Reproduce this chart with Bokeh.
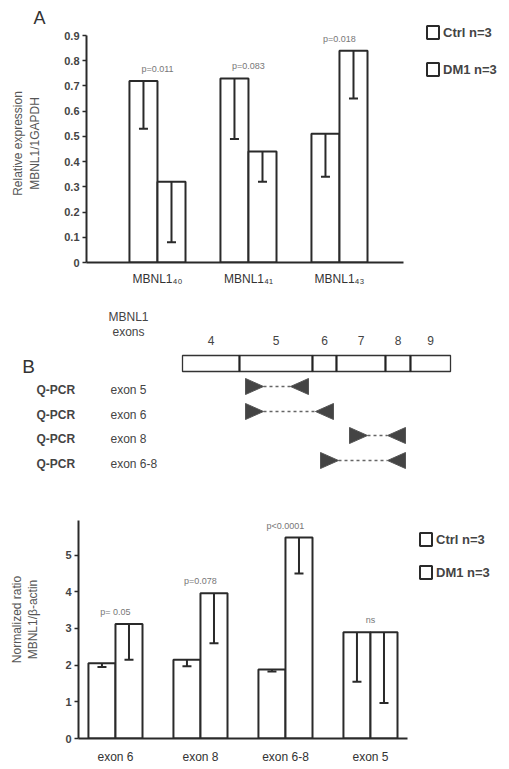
import numpy as np
from bokeh.plotting import figure
from bokeh.models import (Range1d, FixedTicker, ColumnDataSource, Legend, LegendItem)
from bokeh.core.properties import value
from bokeh.embed import file_html
from bokeh.resources import INLINE

FONT = "Liberation Sans"
INK = "#2a2a2a"

# ---------------- Panel A data ----------------
a_cats = ["MBNL1\u2084\u2080", "MBNL1\u2084\u2081", "MBNL1\u2084\u2083"]
a_ctrl = [0.72, 0.73, 0.51]
a_ctrl_err = [0.19, 0.24, 0.17]
a_dm1 = [0.32, 0.44, 0.84]
a_dm1_err = [0.24, 0.12, 0.19]
a_pvals = ["p=0.011", "p=0.083", "p=0.018"]
a_yticks = [0, 0.1, 0.2, 0.3, 0.4, 0.5, 0.6, 0.7, 0.8, 0.9]
a_ticklabels = ["0", "0.1", "0.2", "0.3", "0.4", "0.5", "0.6", "0.7", "0.8", "0.9"]

# ---------------- Panel B data ----------------
exon_names = ["4", "5", "6", "7", "8", "9"]
exon_lengths = [57, 73, 24, 49, 25, 40]
qpcr_targets = ["exon 5", "exon 6", "exon 8", "exon 6-8"]
primer_fwd = [63, 63, 167, 138]
primer_rev = [126, 151, 223, 223]

# ---------------- Panel C data ----------------
c_cats = ["exon 6", "exon 8", "exon 6-8", "exon 5"]
c_ctrl = [2.05, 2.15, 1.88, 2.9]
c_ctrl_err = [0.10, 0.18, 0.05, 1.35]
c_dm1 = [3.12, 3.96, 5.48, 2.9]
c_dm1_err = [0.97, 1.36, 0.98, 1.93]
c_pvals = ["p= 0.05", "p=0.078", "p<0.0001", "ns"]
c_yticks = [0, 1, 2, 3, 4, 5]
c_ticklabels = ["0", "1", "2", "3", "4", "5"]

series_labels = ["Ctrl n=3", "DM1 n=3"]

W = 509


def bar_panel(height, cats, ctrl, ctrl_err, dm1, dm1_err, pvals, yticks, ticklabels,
              y_axis_top, y_end, x_start, x_axis_end, px_per_unit, bw, borders, ylabel,
              ylabel_standoff, xlabel_standoff, leg_loc, leg_spacing, title=""):
    left, top, bottom = borders
    x_end = x_start + (W - left) / px_per_unit
    p = figure(width=W, height=height, x_range=Range1d(x_start, x_end),
               y_range=Range1d(0, y_end), output_backend="svg", toolbar_location=None,
               min_border_left=left, min_border_right=0, min_border_top=top,
               min_border_bottom=bottom, title=title)
    p.outline_line_color = None
    p.grid.visible = False
    p.background_fill_color = "white"
    p.border_fill_color = "white"

    xs = np.arange(len(cats), dtype=float)
    ctrl = np.array(ctrl); dm1 = np.array(dm1)
    rs = []
    for xo, vals, errs in ((xs - bw / 2, ctrl, ctrl_err), (xs + bw / 2, dm1, dm1_err)):
        src = ColumnDataSource(dict(x=xo, top=vals, lower=vals - np.array(errs)))
        r = p.vbar(x="x", top="top", width=bw, source=src, fill_color="white",
                   line_color=INK, line_width=2)
        rs.append(r)
        p.segment(x0="x", x1="x", y0="top", y1="lower", source=src, line_color=INK,
                  line_width=2)
        p.scatter(x="x", y="lower", source=src, marker="dash", size=9, line_color=INK,
                  line_width=2)

    ymax = np.maximum(ctrl, dm1)
    p.text(x=xs, y=ymax, text=pvals, text_align="center", text_baseline="bottom",
           y_offset=-7, text_font=value(FONT), text_font_size="9px", text_color="#777777")

    p.xaxis.bounds = (x_start, x_axis_end)
    p.xaxis.ticker = FixedTicker(ticks=list(xs))
    p.xaxis.major_label_overrides = {int(i): c for i, c in enumerate(cats)}
    p.xaxis.major_tick_line_color = None
    p.xaxis.minor_tick_line_color = None
    p.xaxis.axis_line_width = 2
    p.xaxis.axis_line_color = INK
    p.xaxis.major_label_standoff = xlabel_standoff
    p.xaxis.major_label_text_font = FONT
    p.xaxis.major_label_text_font_size = "12px"
    p.xaxis.major_label_text_color = "#333333"

    p.yaxis.bounds = (0, y_axis_top)
    p.yaxis.ticker = FixedTicker(ticks=yticks)
    p.yaxis.major_label_overrides = {t: l for t, l in zip(yticks, ticklabels)}
    p.yaxis.minor_tick_line_color = None
    p.yaxis.major_tick_in = 0
    p.yaxis.major_tick_out = 4
    p.yaxis.major_tick_line_width = 1.5
    p.yaxis.major_tick_line_color = INK
    p.yaxis.axis_line_width = 2
    p.yaxis.axis_line_color = INK
    p.yaxis.major_label_standoff = 3
    p.yaxis.major_label_text_font = FONT
    p.yaxis.major_label_text_font_size = "11px"
    p.yaxis.major_label_text_font_style = "bold"
    p.yaxis.major_label_text_color = "#444444"
    p.yaxis.axis_label = ylabel
    p.yaxis.axis_label_text_font = FONT
    p.yaxis.axis_label_text_font_size = "12px"
    p.yaxis.axis_label_text_font_style = "normal"
    p.yaxis.axis_label_text_color = "#555555"
    p.yaxis.axis_label_standoff = ylabel_standoff

    legend = Legend(items=[LegendItem(label=series_labels[0], renderers=[rs[0]]),
                           LegendItem(label=series_labels[1], renderers=[rs[1]])],
                    location=leg_loc, orientation="vertical", glyph_width=15,
                    glyph_height=16, spacing=leg_spacing, padding=0, margin=0,
                    label_standoff=3, label_text_font=FONT, label_text_font_size="13px",
                    label_text_font_style="bold", label_text_color="#444444",
                    border_line_color=None, background_fill_alpha=0)
    p.add_layout(legend)
    return p


# ---------------- Panel A ----------------
# frame: left 86, top 24, bottom 262 ; 0.1 unit = 25.2 px
a_top_border = 24
a_ppu_y = 227 / 0.9
pA = bar_panel(300, a_cats, a_ctrl, a_ctrl_err, a_dm1, a_dm1_err, a_pvals,
               a_yticks, a_ticklabels, 0.9, 0.9 + (35 - a_top_border) / a_ppu_y,
               -0.78, 2.70, 91.0, 0.308, (86, a_top_border, 38),
               "Relative expression\nMBNL1/1GAPDH", 19, 3, (339, 185), 21, title="A")
pA.title.text_font = FONT
pA.title.text_font_size = "18px"
pA.title.text_font_style = "normal"
pA.title.text_color = "#333333"
pA.title.align = "left"
pA.title.offset = -53
pA.title.standoff = -6

# ---------------- Panel B (exon diagram) ----------------
pB = figure(width=W, height=182, x_range=Range1d(0, W), y_range=Range1d(182, 0),
            output_backend="svg", toolbar_location=None, x_axis_type=None,
            y_axis_type=None, min_border=0)
pB.outline_line_color = None
pB.grid.visible = False

origin = 182
edges = origin + np.concatenate([[0], np.cumsum(exon_lengths)])
pB.quad(left=edges[:-1], right=edges[1:], top=55, bottom=71, fill_color="white",
        line_color="#333333", line_width=1.3)
pB.segment(x0=edges[1:-1], x1=edges[1:-1], y0=55, y1=71, line_color="#222222", line_width=2)
centers = (edges[:-1] + edges[1:]) / 2
pB.text(x=centers, y=40, text=exon_names, text_align="center", text_baseline="middle",
        text_font=value(FONT), text_font_size="12px", text_color="#444444")
pB.text(x=[128, 128], y=[16, 31], text=["MBNL1", "exons"], text_align="center",
        text_baseline="middle", text_font=value(FONT), text_font_size="12px",
        text_color="#444444")
pB.text(x=[28], y=[66], text=["B"], text_align="center", text_baseline="middle",
        text_font=value(FONT), text_font_size="19px", text_color="#333333")

row_y = np.array([89, 114, 138, 163])
pB.text(x=[36] * 4, y=row_y, text=["Q-PCR"] * 4, text_align="left", text_baseline="middle",
        text_font=value(FONT), text_font_size="12px", text_font_style="bold",
        text_color="#444444")
pB.text(x=[110] * 4, y=row_y, text=qpcr_targets, text_align="left", text_baseline="middle",
        text_font=value(FONT), text_font_size="12px", text_color="#444444")

tri_w, tri_h = 18, 8
ty = row_y - 3
fx = origin + np.array(primer_fwd)
rx = origin + np.array(primer_rev)
fwd_xs = [[x, x, x + tri_w] for x in fx]
fwd_ys = [[y - tri_h, y + tri_h, y] for y in ty]
rev_xs = [[x, x, x - tri_w] for x in rx]
rev_ys = [[y - tri_h, y + tri_h, y] for y in ty]
pB.patches(xs=fwd_xs, ys=fwd_ys, fill_color="#444444", line_color="#555555", line_width=1)
pB.patches(xs=rev_xs, ys=rev_ys, fill_color="#444444", line_color="#555555", line_width=1)
pB.segment(x0=fx + tri_w, x1=rx - tri_w, y0=ty, y1=ty, line_color="#666666",
           line_width=1.5, line_dash="3 3")

# ---------------- Panel C ----------------
# frame: left 78, top 500, bottom 738 ; 1 unit = 36.67 px
c_top_border = 18
c_ppu_y = 36.67
pC = bar_panel(287, c_cats, c_ctrl, c_ctrl_err, c_dm1, c_dm1_err, c_pvals,
               c_yticks, c_ticklabels, 5.95, (738 - 482 - c_top_border) / c_ppu_y,
               -0.435, 3.435, 85.0, 0.318, (78, c_top_border, 31),
               "Normalized ratio\nMBNL1/\u03b2-actin", 22, 5, (340, 158), 17)

# separate roots so that the three frames are not forced into alignment
open("out.html", "w").write(file_html([pA, pB, pC], INLINE))
